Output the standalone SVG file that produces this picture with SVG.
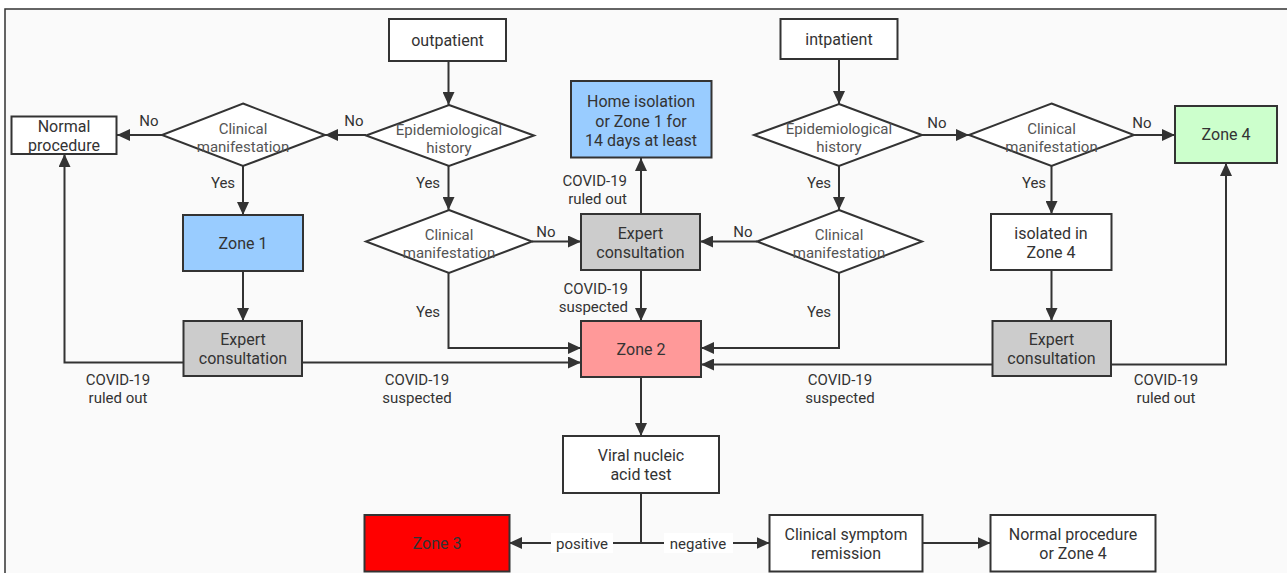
<svg xmlns="http://www.w3.org/2000/svg" width="1287" height="573" viewBox="0 0 1287 573">
<style>
.bx{stroke:#333;stroke-width:2}
.dm{fill:#fff;stroke:#333;stroke-width:2}
.t{font-family:Roboto,"Noto Sans","DejaVu Sans",sans-serif;font-size:16px;fill:#333;text-anchor:middle}
.td{font-family:Roboto,"Noto Sans","DejaVu Sans",sans-serif;font-size:15px;fill:#555;text-anchor:middle}
.tl{font-family:Roboto,"Noto Sans","DejaVu Sans",sans-serif;font-size:15px;fill:#333;text-anchor:middle}
.te{text-anchor:end}
.c{fill:none;stroke:#333;stroke-width:2;marker-end:url(#ah)}
</style>
<defs>
<marker id="ah" markerUnits="userSpaceOnUse" markerWidth="13" markerHeight="12" refX="13" refY="6" orient="auto">
<path d="M0,0 L13,6 L0,12 z" fill="#333"/>
</marker>
</defs>
<rect x="0" y="0" width="1287" height="573" fill="#fff"/>
<rect x="5" y="9" width="1300" height="600" fill="#fafafa" stroke="#333" stroke-width="1.5"/>

<g id="connectors">
<path class="c" d="M448.5,62 V105"/>
<path class="c" d="M366,135 H325"/>
<path class="c" d="M162,135 H117"/>
<path class="c" d="M243,166 V215"/>
<path class="c" d="M243,271 V321"/>
<path class="c" d="M184,362.5 H64.5 V154"/>
<path class="c" d="M302,362.5 H581"/>
<path class="c" d="M448.5,166 V210"/>
<path class="c" d="M532,241.5 H581"/>
<path class="c" d="M448.5,273 V348 H581"/>
<path class="c" d="M641,214 V158"/>
<path class="c" d="M641,270 V321"/>
<path class="c" d="M839,59 V104"/>
<path class="c" d="M922,135 H969"/>
<path class="c" d="M1134,135 H1175"/>
<path class="c" d="M839,166 V210"/>
<path class="c" d="M757,241.5 H700"/>
<path class="c" d="M839,273 V348 H701"/>
<path class="c" d="M1051.5,166 V214"/>
<path class="c" d="M1051.5,270 V321"/>
<path class="c" d="M992,364.5 H701"/>
<path class="c" d="M1111,364.5 H1226 V163"/>
<path class="c" d="M641,377 V436"/>
<path class="c" d="M641,493 V543 H509"/>
<path class="c" d="M641,543 H769.5"/>
<path class="c" d="M922.5,543 H990.5"/>
<rect x="551" y="533" width="62" height="20" fill="#fff"/>
<rect x="664" y="533" width="69" height="20" fill="#fff"/>
<text class="tl" x="582" y="548.5">positive</text>
<text class="tl" x="698" y="548.5">negative</text>
<text class="tl" x="149" y="126">No</text>
<text class="tl" x="354" y="126">No</text>
<text class="tl" x="223" y="188">Yes</text>
<text class="tl" x="428" y="188">Yes</text>
<text class="tl" x="546" y="237">No</text>
<text class="tl" x="428" y="317">Yes</text>
<text class="tl" x="743" y="237">No</text>
<text class="tl" x="819" y="317">Yes</text>
<text class="tl" x="937" y="128">No</text>
<text class="tl" x="1142" y="128">No</text>
<text class="tl" x="819" y="188">Yes</text>
<text class="tl" x="1034" y="188">Yes</text>
<text class="tl" x="118" y="385">COVID-19<tspan x="118" dy="18">ruled out</tspan></text>
<text class="tl" x="417" y="385">COVID-19<tspan x="417" dy="18">suspected</tspan></text>
<text class="tl" x="840" y="385">COVID-19<tspan x="840" dy="18">suspected</tspan></text>
<text class="tl" x="1166" y="385">COVID-19<tspan x="1166" dy="18">ruled out</tspan></text>
<text class="tl te" x="627" y="186">COVID-19<tspan x="627" dy="18">ruled out</tspan></text>
<text class="tl te" x="628" y="294">COVID-19<tspan x="628" dy="18">suspected</tspan></text>
</g>

<g id="outpatient">
<rect class="bx" x="389" y="19" width="117" height="42" fill="#fff"/>
<text class="t" x="447.5" y="45.5">outpatient</text>
</g>
<g id="intpatient">
<rect class="bx" x="780.5" y="19" width="117" height="40" fill="#fff"/>
<text class="t" x="839" y="44.5">intpatient</text>
</g>
<g id="epi-left">
<polygon class="dm" points="449,105 534,135.5 449,166 366,135.5"/>
<text class="td" x="449" y="134.5">Epidemiological<tspan x="449" dy="18">history</tspan></text>
</g>
<g id="clin-top-left">
<polygon class="dm" points="243,103.5 325,135 243,166 162,135"/>
<text class="td" x="243" y="133.5">Clinical<tspan x="243" dy="18">manifestation</tspan></text>
</g>
<g id="normal-procedure">
<rect class="bx" x="11.5" y="116.5" width="105" height="37.5" fill="#fff"/>
<text class="t" x="64" y="132">Normal<tspan x="64" dy="19">procedure</tspan></text>
</g>
<g id="zone1">
<rect class="bx" x="183" y="215" width="120" height="56" fill="#99ccff"/>
<text class="t" x="243" y="248.5">Zone 1</text>
</g>
<g id="expert-left">
<rect class="bx" x="183.5" y="321" width="118.5" height="55" fill="#cccccc"/>
<text class="t" x="243" y="345">Expert<tspan x="243" dy="19">consultation</tspan></text>
</g>
<g id="clin-mid-left">
<polygon class="dm" points="449,210 532,241.5 449,273 366,241.5"/>
<text class="td" x="449" y="240">Clinical<tspan x="449" dy="18">manifestation</tspan></text>
</g>
<g id="home-isolation">
<rect class="bx" x="571" y="81" width="140.5" height="76.5" fill="#99ccff"/>
<text class="t" x="641" y="107">Home isolation<tspan x="641" dy="19.5">or Zone 1 for</tspan><tspan x="641" dy="19">14 days at least</tspan></text>
</g>
<g id="expert-mid">
<rect class="bx" x="581" y="214" width="119" height="56" fill="#cccccc"/>
<text class="t" x="640.5" y="239">Expert<tspan x="640.5" dy="19">consultation</tspan></text>
</g>
<g id="zone2">
<rect class="bx" x="581" y="321" width="120" height="56" fill="#ff9999"/>
<text class="t" x="641" y="355">Zone 2</text>
</g>
<g id="epi-right">
<polygon class="dm" points="839,104 922,135 839,166 754,135"/>
<text class="td" x="839" y="134">Epidemiological<tspan x="839" dy="18">history</tspan></text>
</g>
<g id="clin-top-right">
<polygon class="dm" points="1051.5,103.5 1134,135 1051.5,166 969,135"/>
<text class="td" x="1051.5" y="133.5">Clinical<tspan x="1051.5" dy="18">manifestation</tspan></text>
</g>
<g id="zone4">
<rect class="bx" x="1175" y="106" width="102" height="57" fill="#ccffcc"/>
<text class="t" x="1226" y="140">Zone 4</text>
</g>
<g id="clin-mid-right">
<polygon class="dm" points="839,210 922,241.5 839,273 757,241.5"/>
<text class="td" x="839" y="240">Clinical<tspan x="839" dy="18">manifestation</tspan></text>
</g>
<g id="isolated-zone4">
<rect class="bx" x="991" y="214" width="120.5" height="56" fill="#fff"/>
<text class="t" x="1051" y="239">isolated in<tspan x="1051" dy="19">Zone 4</tspan></text>
</g>
<g id="expert-right">
<rect class="bx" x="992.5" y="321" width="118.5" height="55" fill="#cccccc"/>
<text class="t" x="1051.5" y="345">Expert<tspan x="1051.5" dy="19">consultation</tspan></text>
</g>
<g id="viral-test">
<rect class="bx" x="563" y="436" width="156" height="57" fill="#fff"/>
<text class="t" x="641" y="461">Viral nucleic<tspan x="641" dy="19">acid test</tspan></text>
</g>
<g id="zone3">
<rect class="bx" x="364.5" y="515" width="145" height="56.5" fill="#ff0000"/>
<text class="t" x="437" y="549">Zone 3</text>
</g>
<g id="symptom-remission">
<rect class="bx" x="769.5" y="515" width="153" height="56.5" fill="#fff"/>
<text class="t" x="846" y="539.5">Clinical symptom<tspan x="846" dy="19">remission</tspan></text>
</g>
<g id="normal-or-zone4">
<rect class="bx" x="990.5" y="515" width="165" height="56.5" fill="#fff"/>
<text class="t" x="1073" y="539.5">Normal procedure<tspan x="1073" dy="19">or Zone 4</tspan></text>
</g>
</svg>
